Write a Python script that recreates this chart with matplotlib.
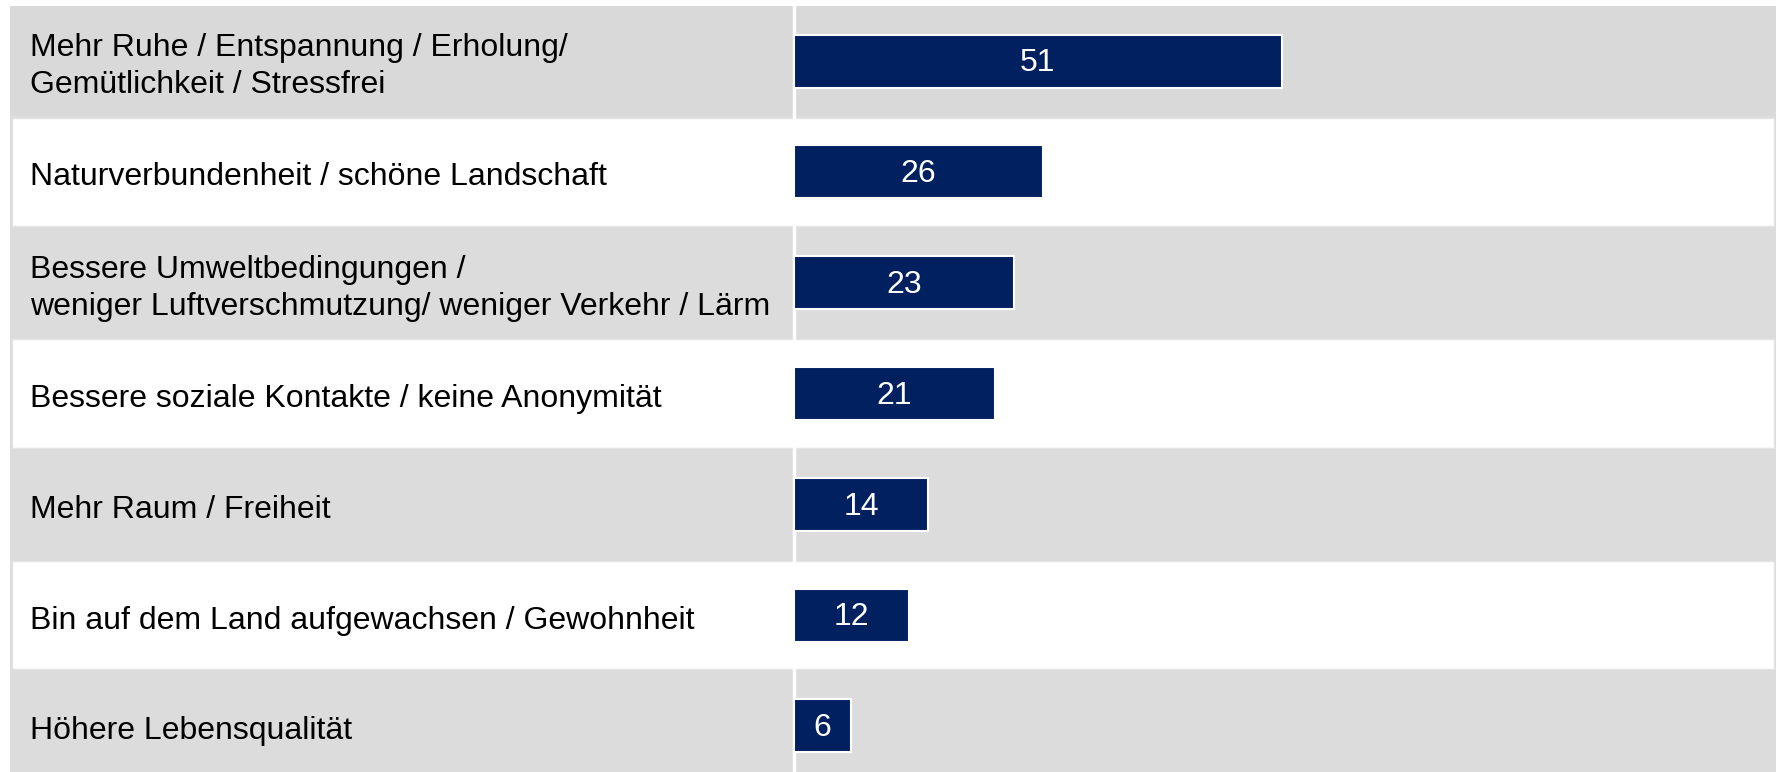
import matplotlib
matplotlib.use("Agg")
import matplotlib.pyplot as plt
import matplotlib.transforms as mtransforms

plt.rcParams['font.family'] = ['Liberation Sans', 'DejaVu Sans']

labels = [
    "Mehr Ruhe / Entspannung / Erholung/\nGemütlichkeit / Stressfrei",
    "Naturverbundenheit / schöne Landschaft",
    "Bessere Umweltbedingungen /\nweniger Luftverschmutzung/ weniger Verkehr / Lärm",
    "Bessere soziale Kontakte / keine Anonymität",
    "Mehr Raum / Freiheit",
    "Bin auf dem Land aufgewachsen / Gewohnheit",
    "Höhere Lebensqualität",
]
values = [51, 26, 23, 21, 14, 12, 6]

W, H = 1785, 772
fig = plt.figure(figsize=(W / 100, H / 100), dpi=100)
# table spans x 10..1776 px, rows ~110.8 px tall, last row cut by the figure edge
top_px = 5.7
row_h = 110.8
n = len(values)
bottom_px = top_px + n * row_h
ax = fig.add_axes([10 / W, 1 - bottom_px / H, 1766 / W, (bottom_px - top_px) / H])

ax.set_facecolor('#dcdcdc')
ax.set_xlim(-82.0, 102.7)
ax.set_ylim(n - 0.5, -0.5)

for i in range(n):
    if i % 2 == 1:
        ax.axhspan(i - 0.5 + 0.012, i + 0.5 - 0.012, xmin=2 / 1766, xmax=1 - 2 / 1766,
                   facecolor='white', edgecolor='#e4e4e4', lw=1, zorder=1)
    elif i == 0:
        ax.axhspan(i - 0.5, i + 0.5 - 0.005, facecolor='#d9d9d9', lw=0, zorder=1)

ax.axvline(0, color='white', lw=2.5, zorder=2)

ys = list(range(n))
ax.barh(ys, values, height=0.48, color='#002060', edgecolor='white', lw=1.5, zorder=3)

trans = mtransforms.blended_transform_factory(ax.transAxes, ax.transData)
for y, lab, v in zip(ys, labels, values):
    ax.text(20 / 1766, y + 0.05, lab, transform=trans, ha='left', va='center',
            fontsize=23, color='black', linespacing=1.3)
    ax.text(v / 2, y + 0.02, str(v), ha='center', va='center', fontsize=23,
            color='white', zorder=4)

for s in ax.spines.values():
    s.set_visible(False)
ax.set_xticks([])
ax.set_yticks([])

fig.savefig("out.png", dpi=100)
